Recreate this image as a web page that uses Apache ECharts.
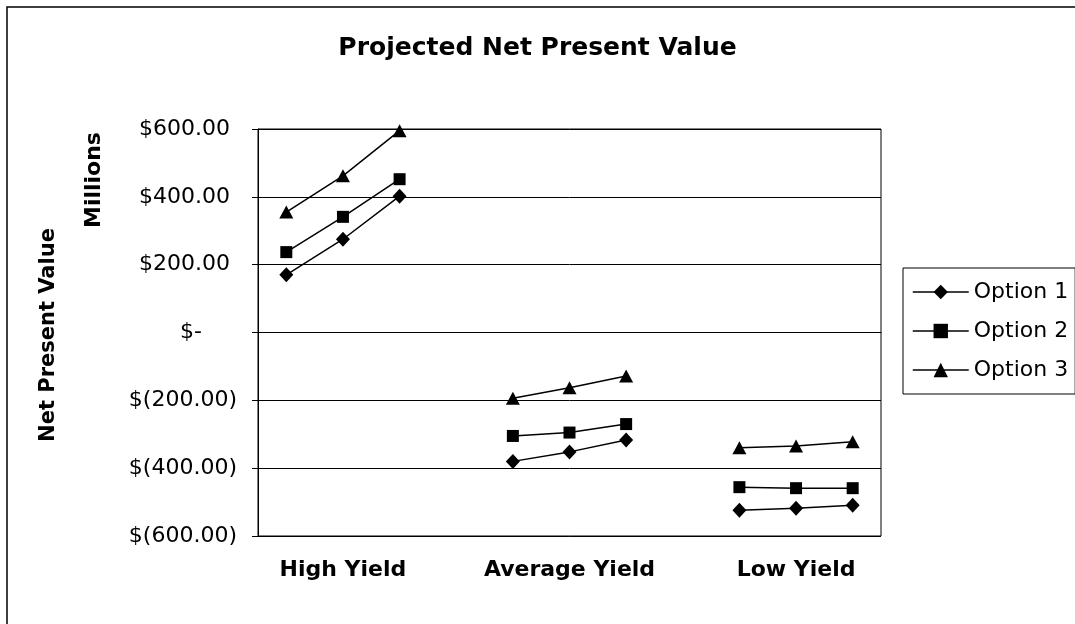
<!DOCTYPE html>
<html>
<head>
<meta charset="utf-8">
<script src="https://cdn.jsdelivr.net/npm/echarts@6/dist/echarts.min.js"></script>
<style>
    html, body { margin: 0; padding: 0; background: #fff; }
    #visual-1 { width: 1075px; height: 624px; }
</style>
</head>
<body>
<div id="visual-1"></div>
<script>
// 11 slots: three points per yield case, blank slot between cases
var categories = ['', 'High Yield', '', '', '', 'Average Yield', '', '', '', 'Low Yield', ''];
var option1 = [170, 275, 402, null, -380, -352, -317, null, -524, -518, -509];
var option2 = [237, 341, 452, null, -305, -295, -270, null, -456, -459, -459];
var option3 = [355, 462, 595, null, -194, -163, -128, null, -340, -335, -322];
var yTicks = [-600, 200, 600];   // min, step, max

var font = '"DejaVu Sans", sans-serif';

function money(v) {
    if (v === 0) return '$-     ';
    if (v < 0) return '$(' + (-v).toFixed(2) + ')';
    return '$' + v.toFixed(2) + ' ';
}

function data_visualization1() {
    var myChart = echarts.init(document.getElementById('visual-1'));

    var option = {
        backgroundColor: '#fff',
        animation: false,
        title: {
            text: 'Projected Net Present Value',
            left: 'center',
            top: 31,
            textStyle: {
                fontFamily: font,
                fontWeight: 'bold',
                fontSize: 25,
                color: '#000'
            }
        },
        legend: {
            orient: 'vertical',
            left: 903,
            top: 268,
            padding: [13, 7, 13, 9],
            itemWidth: 56,
            itemHeight: 18,
            itemGap: 17,
            borderColor: '#000',
            borderWidth: 1,
            backgroundColor: '#fff',
            lineStyle: { width: 1.5 },
            textStyle: {
                fontFamily: font,
                fontSize: 22,
                color: '#000'
            },
            data: ['Option 1', 'Option 2', 'Option 3']
        },
        grid: {
            left: 258,
            right: 194,
            top: 129,
            bottom: 88,
            show: true,
            borderColor: '#000',
            borderWidth: 1
        },
        xAxis: {
            type: 'category',
            data: categories,
            boundaryGap: true,
            axisLine: { lineStyle: { color: '#000', width: 1 } },
            axisTick: { show: false },
            axisLabel: {
                interval: 0,
                margin: 23,
                fontFamily: font,
                fontWeight: 'bold',
                fontSize: 22,
                color: '#000'
            }
        },
        yAxis: {
            type: 'value',
            min: yTicks[0],
            max: yTicks[2],
            interval: yTicks[1],
            axisLine: { show: true, lineStyle: { color: '#000', width: 1 } },
            axisTick: { show: true, length: 6, lineStyle: { color: '#000' } },
            splitLine: { lineStyle: { color: '#000', width: 1 } },
            axisLabel: {
                margin: 21,
                fontFamily: font,
                fontSize: 22,
                color: '#000',
                formatter: money
            }
        },
        graphic: [
            {
                type: 'rect',
                shape: { x: 7, y: 7, width: 1200, height: 1000 },
                style: { fill: 'none', stroke: '#000', lineWidth: 1.5 },
                silent: true
            },
            {
                type: 'text',
                x: 49,
                y: 335,
                rotation: Math.PI / 2,
                style: {
                    text: 'Net Present Value',
                    x: 0,
                    y: 0,
                    align: 'center',
                    verticalAlign: 'middle',
                    font: 'bold 21px "DejaVu Sans", sans-serif',
                    fill: '#000'
                }
            },
            {
                type: 'text',
                x: 94,
                y: 180,
                rotation: Math.PI / 2,
                style: {
                    text: 'Millions',
                    x: 0,
                    y: 0,
                    align: 'center',
                    verticalAlign: 'middle',
                    font: 'bold 22px "DejaVu Sans", sans-serif',
                    fill: '#000'
                }
            }
        ],
        series: [
            {
                name: 'Option 1',
                type: 'line',
                data: option1,
                symbol: 'diamond',
                symbolSize: [14, 15],
                showAllSymbol: true,
                itemStyle: { color: '#000' },
                lineStyle: { color: '#000', width: 1.5 }
            },
            {
                name: 'Option 2',
                type: 'line',
                data: option2,
                symbol: 'rect',
                symbolSize: 12,
                showAllSymbol: true,
                itemStyle: { color: '#000' },
                lineStyle: { color: '#000', width: 1.5 }
            },
            {
                name: 'Option 3',
                type: 'line',
                data: option3,
                symbol: 'triangle',
                symbolSize: [14, 13],
                showAllSymbol: true,
                itemStyle: { color: '#000' },
                lineStyle: { color: '#000', width: 1.5 }
            }
        ]
    };

    myChart.setOption(option);
}

data_visualization1();
</script>
</body>
</html>
